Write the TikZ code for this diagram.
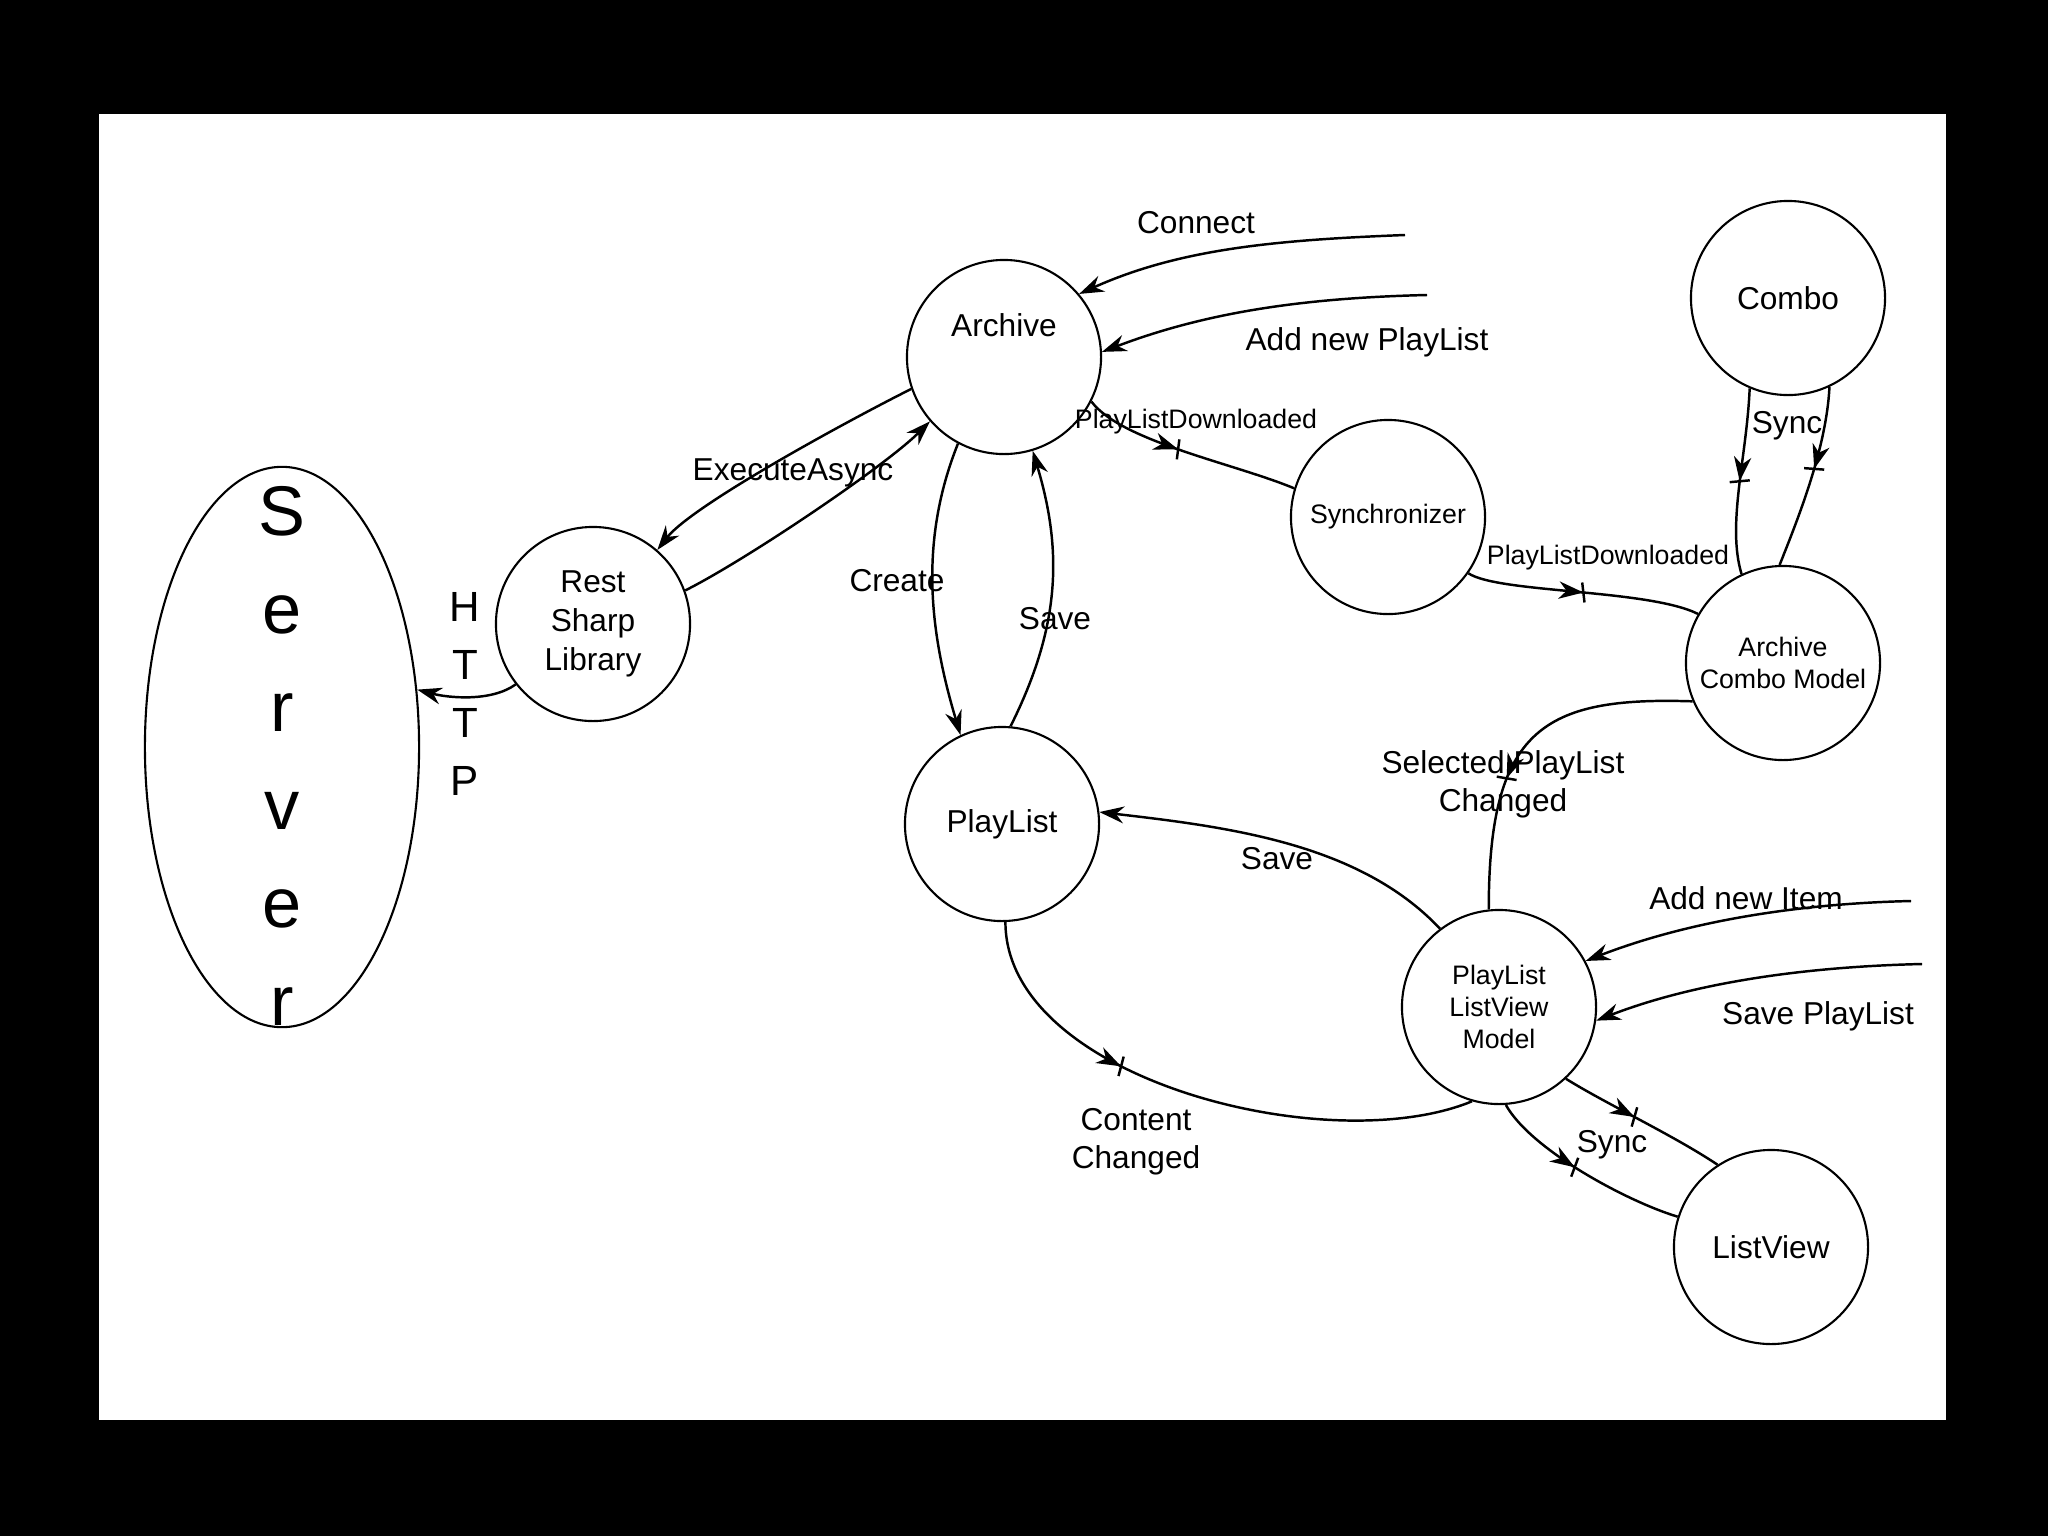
\documentclass[tikz,border=0pt]{standalone}
\usepackage{fontspec}
\setmainfont{Liberation Sans}
\usetikzlibrary{arrows.meta, shapes.geometric, decorations.markings}

\tikzset{
  state/.style={circle, draw, line width=0.6pt, minimum size=1.94cm, inner sep=0pt,
    font=\fontsize{9}{11}\selectfont, align=center},
  smallstate/.style={state, font=\fontsize{7.6}{9.2}\selectfont},
  lbl/.style={font=\fontsize{9}{10.8}\selectfont, align=center, inner sep=0pt},
  smalllbl/.style={font=\fontsize{7.6}{9}\selectfont, inner sep=0pt},
  httplbl/.style={font=\fontsize{12}{16.5}\selectfont, align=center, inner sep=0pt},
  flow/.style={line width=0.7pt, -{Stealth[length=7pt,width=4.8pt]}},
  midflow/.style={line width=0.7pt, postaction={decorate},
    decoration={markings, mark=at position #1 with
      {\fill (0pt,0pt) -- (-7pt,2.5pt) -- (-4.8pt,0pt) -- (-7pt,-2.5pt) -- cycle;
       \draw[line width=0.7pt] (0.6pt,-2.8pt) -- (-0.6pt,2.8pt);}}},
  midflow/.default=0.5
}

\begin{document}
\begin{tikzpicture}[x=0.01cm, y=-0.01cm]
  % === TLO ===
  \fill[black] (0,0) rectangle (2048,1536);
  \fill[white] (99,114) rectangle (1946,1420);

  % === WEZLY ===
  \node[ellipse, draw, line width=0.6pt, minimum width=2.74cm, minimum height=5.6cm, inner sep=0pt,
    label={[name=server-txt, font=\fontsize{20}{27.9}\selectfont, align=center, yshift=-2.5pt]center:{S\\e\\r\\v\\e\\r}}]
    (server) at (282,747) {};
  \node[state] (rest) at (593,624) {Rest\\Sharp\\Library};
  \node[state, label={[name=archive-txt, lbl, yshift=9pt]center:Archive}] (archive) at (1004,357) {};
  \node[state] (playlist) at (1002,824) {PlayList};
  \node[smallstate] (sync) at (1388,517) {Synchronizer};
  \node[state] (combo) at (1788,298) {Combo};
  \node[smallstate] (acm) at (1783,663) {Archive\\Combo Model};
  \node[smallstate] (plvm) at (1499,1007) {PlayList\\ListView\\Model};
  \node[state] (listview) at (1771,1247) {ListView};

  % wolne konce
  \coordinate (connect-src) at (1405,235);
  \coordinate (addpl-src) at (1427,295);
  \coordinate (additem-src) at (1911,901);
  \coordinate (savepl-src) at (1922,964);

  % === POLACZENIA ===
  \draw[flow] (connect-src) .. controls +(-130,5) and +(100,-45) .. (archive.40);
  \draw[flow] (addpl-src) .. controls +(-130,3) and +(100,-38) .. (archive.3);
  \draw[flow] (archive.199) .. controls +(-60,30) and +(35,-45) .. (rest.49);
  \draw[flow] (rest.20) .. controls +(60,-30) and +(-45,45) .. (archive.221);
  \draw[flow] (rest.218) .. controls +(-25,18) and +(30,8) .. (server.23);
  \draw[flow] (archive.242) .. controls +(-40,100) and +(-30,-100) .. (playlist.115);
  \draw[flow] (playlist.85) .. controls +(50,-100) and +(30,100) .. (archive.287);
  \draw[midflow=0.45] (archive.333) .. controls +(30,40) and +(-60,-25) .. (sync.163);
  \draw[midflow] (sync.325) .. controls +(30,20) and +(-50,-25) .. (acm.150);
  \draw[midflow] (combo.247) .. controls +(-3,70) and +(-15,-50) .. (acm.115);
  \draw[midflow=0.45] (combo.295) .. controls +(-3,60) and +(20,-50) .. (acm.92);
  \draw[midflow=0.62] (acm.203) .. controls +(-150,-5) and +(0,-180) .. (plvm.96);
  \draw[flow] (plvm.127) .. controls +(-80,-85) and +(130,15) .. (playlist.7);
  \draw[midflow=0.35] (playlist.272) .. controls +(0,157) and +(-143,59) .. (plvm.254);
  \draw[flow] (additem-src) .. controls +(-130,3) and +(90,-35) .. (plvm.28);
  \draw[flow] (savepl-src) .. controls +(-130,3) and +(90,-35) .. (plvm.352);
  \draw[midflow=0.45] (plvm.313) .. controls +(40,25) and +(-45,-30) .. (listview.123);
  \draw[midflow=0.45] (plvm.274) .. controls +(25,45) and +(-50,-15) .. (listview.162);

  % === ETYKIETY ===
  \node[lbl] (connect-lbl) at (1196,223) {Connect};
  \node[lbl] (addpl-lbl) at (1367,342) {Add new PlayList};
  \node[smalllbl] (pld1-lbl) at (1196,422) {PlayListDownloaded};
  \node[smalllbl] (pld2-lbl) at (1608,558) {PlayListDownloaded};
  \node[lbl] (sync1-lbl) at (1787,426) {Sync};
  \node[lbl] (exec-lbl) at (793,473) {ExecuteAsync};
  \node[lbl] (create-lbl) at (897,581) {Create};
  \node[lbl] (save1-lbl) at (1055,619) {Save};
  \node[httplbl] (http-lbl) at (465,694) {H\\T\\T\\P};
  \node[lbl] (sel-lbl) at (1503,784) {Selected PlayList\\Changed};
  \node[lbl] (save2-lbl) at (1277,859) {Save};
  \node[lbl] (additem-lbl) at (1746,898) {Add new Item};
  \node[lbl] (savepl-lbl) at (1818,1016) {Save PlayList};
  \node[lbl] (content-lbl) at (1136,1142) {Content\\Changed};
  \node[lbl] (sync2-lbl) at (1612,1145) {Sync};
\end{tikzpicture}
\end{document}
